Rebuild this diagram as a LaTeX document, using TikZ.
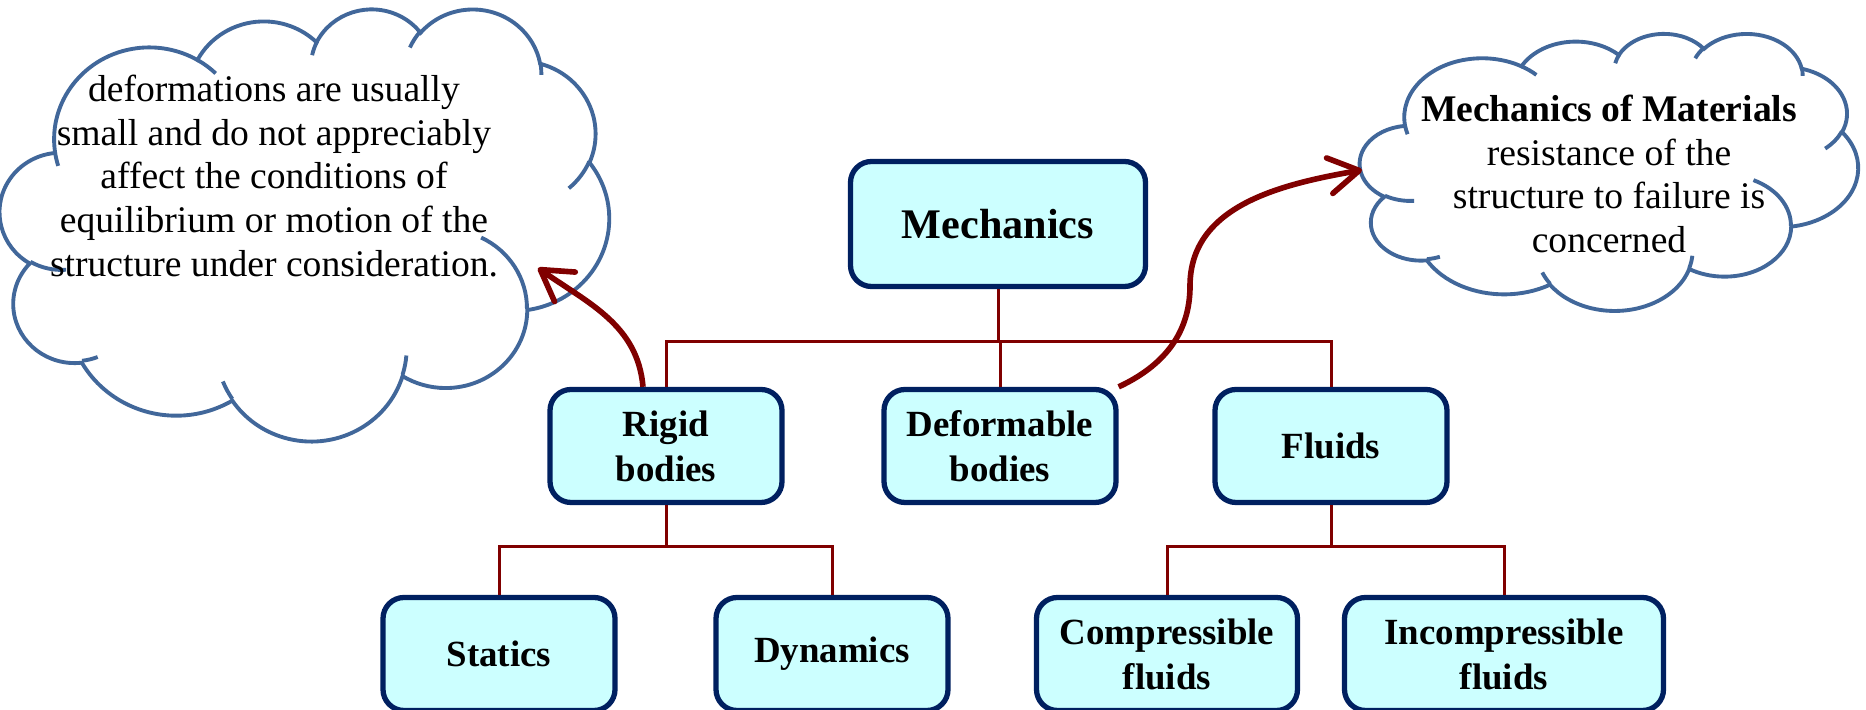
\documentclass[tikz,border=0pt]{standalone}
\usepackage{fontspec}
\setmainfont{Liberation Serif}
\usetikzlibrary{arrows.meta}
\definecolor{boxfill}{HTML}{CCFFFF}
\definecolor{boxline}{HTML}{002060}
\definecolor{linkred}{HTML}{800000}
\definecolor{cloudline}{HTML}{41679A}

% angle on an ellipse as seen from its centre -> angle for TikZ's arc
\pgfmathdeclarefunction{puffang}{3}{%
  \begingroup
  \pgfmathparse{atan2((#2)*sin(#1),(#3)*cos(#1))-(#1)}%
  \pgfmathparse{(#1)+\pgfmathresult-360*round(\pgfmathresult/360)}%
  \pgfmathsmuggle\pgfmathresult
  \endgroup}
\newcommand\puff[4]{arc[start angle={puffang(#3,#1,#2)}, end angle={puffang(#3+#4,#1,#2)}, x radius=#1, y radius=#2]}

% cloud outline in a 432 x 432 frame, y pointing down
\newcommand\cloudoutline{(39,143.70)
  \puff{67.53}{91.90}{-190.4875}{123.7805}
  \puff{53.33}{72.67}{-144.1024}{89.9452}
  \puff{43.65}{59.45}{-145.8079}{99.7230}
  \puff{48.57}{65.95}{-130.9861}{117.2417}
  \puff{53.33}{72.73}{-78.7089}{109.0269}
  \puff{67.75}{92.20}{-46.2673}{130.2690}
  \puff{57.85}{78.67}{0.6250}{114.0333}
  \puff{67.52}{92.15}{22.4516}{115.1726}
  \puff{77.20}{105.43}{66.2426}{75.7110}
  \puff{43.60}{59.18}{-274.9421}{146.7356}
  \puff{43.45}{59.45}{-246.8285}{152.5189} -- cycle}
\newcommand\cloudhooks{%
  (46.93,261.77) \puff{43.45}{59.45}{86.7420}{26.4295}
  (69.28,348.99) \puff{43.60}{59.18}{73.6105}{11.4475}
  (164.78,390.90) \puff{67.52}{92.15}{137.6242}{14.0811}
  (288.27,347.51) \puff{67.52}{92.15}{6.4533}{15.9984}
  (341.29,229.54) \puff{57.85}{78.67}{-70.2924}{70.9174}
  (417.98,153.54) \puff{53.33}{72.73}{30.3180}{27.7515}
  (383.24,54.26) \puff{48.57}{65.95}{-13.7443}{14.8589}
  (290.78,39.52) \puff{48.57}{65.95}{-149.1815}{18.1954}
  (221.41,47.20) \puff{43.65}{59.45}{-163.4943}{17.6864}
  (140.00,51.92) \puff{67.53}{91.90}{-66.7070}{12.3194}
  (41.27,157.89) \puff{67.53}{91.90}{157.6544}{11.8582}}

\begin{document}
\begin{tikzpicture}[x=0.1mm,y=0.1mm,
    box/.style={draw=boxline, line width=1.5pt, fill=boxfill, rounded corners=2.1mm,
        minimum width=23.2mm, minimum height=11.3mm, align=center, inner sep=0pt,
        font=\fontsize{10.5}{12.8}\selectfont\bfseries},
    link/.style={draw=linkred, line width=0.85pt},
    swoop/.style={draw=linkred, line width=1.6pt, -{Straight Barb[length=3mm,width=3.6mm,round]}},
    puffline/.style={draw=cloudline, line width=1.1pt},
    note/.style={align=center, font=\fontsize{10.7}{12.4}\selectfont}]
    \useasboundingbox (0,0) rectangle (1866,710);

    % the two clouds
    \begin{scope}[shift={(0,702)}, x=0.14097mm, y=-0.1mm]
        \filldraw[puffline, fill=white] \cloudoutline;
        \draw[puffline] \cloudhooks;
    \end{scope}
    \begin{scope}[shift={(1360,677)}, x=0.11528mm, y=-0.06412mm]
        \filldraw[puffline, fill=white] \cloudoutline;
        \draw[puffline] \cloudhooks;
    \end{scope}
    \node[note] (lefttext) at (274,534) {deformations are usually\\
        small and do not appreciably\\ affect the conditions of\\
        equilibrium or motion of the\\ structure under consideration.};
    \node[note] (righttext) at (1609,536) {\textbf{Mechanics of Materials}\\
        resistance of the\\ structure to failure is\\ concerned};

    % the tree
    \node[box, minimum width=29.5mm, minimum height=12.5mm,
        font=\fontsize{12}{14}\selectfont\bfseries] (mech) at (998,486) {Mechanics};
    \node[box] (rigid) at (666,264) {Rigid\\bodies};
    \node[box] (deform) at (1000,264) {Deformable\\bodies};
    \node[box] (fluids) at (1331,264) {Fluids};
    \node[box] (statics) at (499,56) {Statics};
    \node[box] (dynamics) at (832,56) {Dynamics};
    \node[box, minimum width=26.1mm] (comp) at (1167,56) {Compressible\\fluids};
    \node[box, minimum width=31.9mm] (incomp) at (1504,56) {Incompressible\\fluids};

    \coordinate (busa) at (0,368);
    \coordinate (busb) at (0,163);
    \draw[link] (mech.south) -- (mech.south |- busa);
    \draw[link] (rigid.north) |- (fluids.north |- busa) -- (fluids.north);
    \draw[link] (deform.north) -- (deform.north |- busa);
    \draw[link] (rigid.south) -- (rigid.south |- busb);
    \draw[link] (statics.north) |- (dynamics.north |- busb) -- (dynamics.north);
    \draw[link] (fluids.south) -- (fluids.south |- busb);
    \draw[link] (comp.north) |- (incomp.north |- busb) -- (incomp.north);

    % pointers to the clouds
    \coordinate (lefttip) at (538,442);
    \coordinate (righttip) at (1362,540);
    \draw[swoop] ([xshift=-2.3mm]rigid.north) to[out=95, in=-35] (lefttip);
    \draw[swoop] (deform.north east) to[out=25, in=-90] (1190,424) to[out=90, in=190] (righttip);
\end{tikzpicture}
\end{document}
